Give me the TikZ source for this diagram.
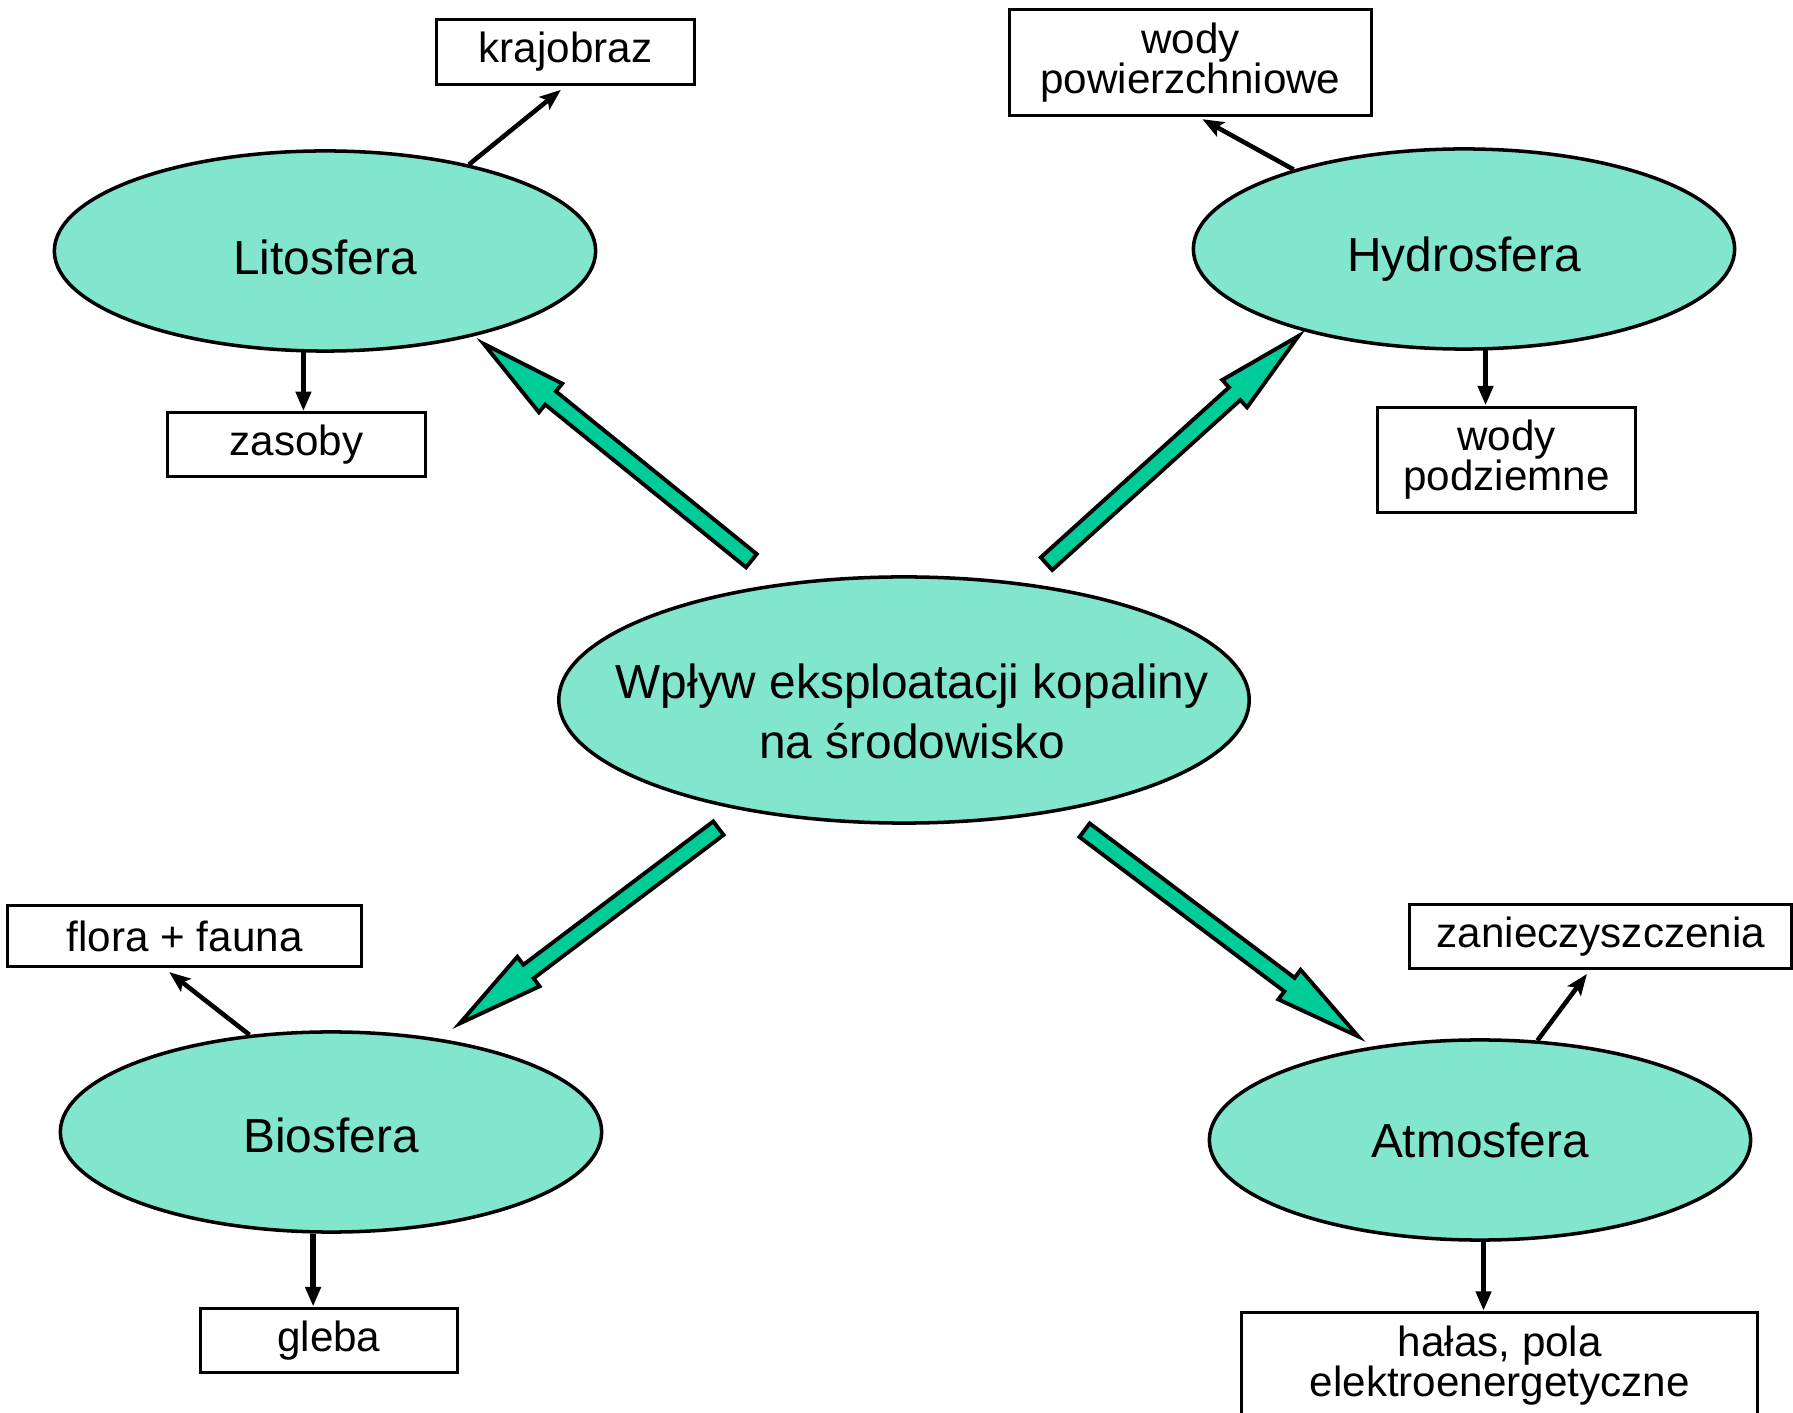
\documentclass[tikz,border=0pt]{standalone}
\usepackage{fontspec}
\setmainfont{Liberation Sans}
\usepackage{tikz}
\usetikzlibrary{calc}
\usetikzlibrary{positioning}
\usetikzlibrary{shapes.geometric}
\usetikzlibrary{arrows.meta}
\definecolor{spherefill}{RGB}{130,229,206}
\definecolor{flowfill}{RGB}{0,204,153}

% block arrow from #1 (tail) to #2 (tip)
\newcommand{\fatarrow}[2]{%
\draw[fat arrow] ($(#1)!0.085cm!90:(#2)$) -- ($(#2)!0.86cm!(#1)!0.085cm!-90:(#1)$) -- ($(#2)!0.86cm!(#1)!0.185cm!-90:(#1)$) -- (#2) -- ($(#2)!0.86cm!(#1)!0.185cm!90:(#1)$) -- ($(#2)!0.86cm!(#1)!0.085cm!90:(#1)$) -- ($(#1)!0.085cm!-90:(#2)$) -- cycle;}

\begin{document}
\begin{tikzpicture}[x=0.01cm, y=-0.01cm,
  sphere node/.style={ellipse, draw, line width=1pt, fill=spherefill, inner sep=0pt, minimum width=5.41cm, minimum height=2cm, font=\fontsize{13.6}{17}\selectfont},
  leaf/.style={rectangle, draw, line width=0.85pt, inner sep=0pt, minimum width=2.573cm, minimum height=0.64cm, align=center, font=\fontsize{12}{11.4}\selectfont},
  fat arrow/.style={draw, line width=1.1pt, fill=flowfill, line join=miter},
  twig/.style={line width=1.3pt, -{Stealth[length=6pt, width=4.6pt, inset=1.2pt]}},
  drop/.style={line width=1.6pt, -{Triangle[length=5.6pt, width=4.2pt]}}]
\useasboundingbox (0,0) rectangle (1793,1413);

% the impact and the four spheres
\node[sphere node, minimum width=6.9cm, minimum height=2.46cm, text height=24pt, text depth=7.2pt] (impact) at (904,700) {\makebox[0pt]{\hspace*{4.6pt}\begin{tabular}{@{}c@{}}Wpływ eksploatacji kopaliny\\na środowisko\end{tabular}}};
\node[sphere node, text height=13.2pt, text depth=0pt] (lito) at (325,251) {Litosfera};
\node[sphere node, text height=13pt, text depth=0pt] (hydro) at (1464,249) {Hydrosfera};
\node[sphere node, text height=11.5pt, text depth=0pt] (bio) at (331,1132) {Biosfera};
\node[sphere node] (atmo) at (1480,1140) {Atmosfera};

% effects
\node[leaf, minimum height=0.652cm] (krajobraz) at (565.5,52) {krajobraz};
\node[leaf] (zasoby) at (296.7,444.8) {zasoby};
\node[leaf, minimum width=3.614cm, minimum height=1.064cm] (powierzchniowe) at (1190.4,62.3) {wody\\powierzchniowe};
\node[leaf, minimum height=1.052cm] (podziemne) at (1506.6,459.7) {wody\\podziemne};
\node[leaf, minimum width=3.533cm, minimum height=0.606cm] (flora) at (184.7,936) {flora + fauna};
\node[leaf] (gleba) at (328.8,1340.2) {gleba};
\node[leaf, minimum width=3.819cm] (zanieczyszczenia) at (1600.9,936.5) {zanieczyszczenia};
\node[leaf, minimum width=5.157cm, minimum height=1.07cm] (halas) at (1499.8,1366) {hałas, pola\\elektroenergetyczne};

% big arrows
\coordinate (litoA) at (751.4,560.7);
\coordinate (litoB) at (483.7,343.8);
\coordinate (hydroA) at (1046.5,563.7);
\coordinate (hydroB) at (1298.5,336);
\coordinate (bioA) at (718.4,828.2);
\coordinate (bioB) at (459.8,1023.4);
\coordinate (atmoA) at (1084.6,830.2);
\coordinate (atmoB) at (1358.2,1036.4);
\fatarrow{litoA}{litoB}
\fatarrow{hydroA}{hydroB}
\fatarrow{bioA}{bioB}
\fatarrow{atmoA}{atmoB}

% small arrows
\draw[twig, shorten >=0.06cm] (lito.31) -- (krajobraz.south);
\draw[twig, shorten >=0.045cm] (hydro.155) -- ([xshift=0.08cm]powierzchniowe.south);
\draw[twig, shorten >=0.07cm] (bio.130) -- ([xshift=-0.21cm]flora.south);
\draw[twig, shorten >=0.05cm] (atmo.60) -- ([xshift=-0.11cm]zanieczyszczenia.south);
\draw[drop] (lito.258) -- (lito.258 |- zasoby.north);
\draw[drop] (hydro.282) -- (hydro.282 |- podziemne.north);
\draw[drop] (bio.260) -- (bio.260 |- gleba.north);
\draw[drop] (atmo.272) -- (atmo.272 |- halas.north);
\end{tikzpicture}
\end{document}
